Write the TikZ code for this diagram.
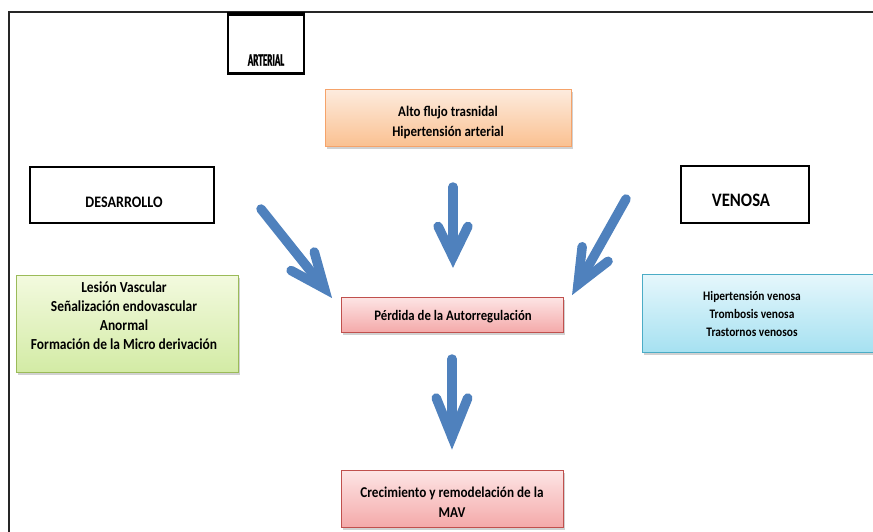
\documentclass[tikz,border=0pt]{standalone}
\usepackage{fontspec}
\setmainfont{Carlito}
\newfontfamily\lblfont[FakeStretch=0.88]{Carlito}
\newfontfamily\narrowfont[FakeStretch=0.52,FakeBold=1.2]{Carlito}
\usetikzlibrary{shadows,calc}
\definecolor{orgline}{HTML}{F5A36A}
\definecolor{orgtop}{HTML}{FDEBDD}
\definecolor{orgbot}{HTML}{FAC090}
\definecolor{grnline}{HTML}{9BBB59}
\definecolor{grntop}{HTML}{F3FADF}
\definecolor{grnbot}{HTML}{D3EBA5}
\definecolor{blueline}{HTML}{4BACC6}
\definecolor{bluetop}{HTML}{E6F7FC}
\definecolor{bluebot}{HTML}{A6E1F1}
\definecolor{redline}{HTML}{C0504D}
\definecolor{redtop}{HTML}{FDE5E5}
\definecolor{redbot}{HTML}{F4AAAA}
\definecolor{arrowblue}{HTML}{4F81BD}
\begin{document}
\begin{tikzpicture}[x=1pt,y=-1pt,
  fillbox/.style={rectangle, draw, line width=1pt, inner sep=0pt,
    drop shadow={shadow xshift=1.5pt, shadow yshift=-2.5pt, opacity=0.3, fill=black!60}},
  orangebox/.style={fillbox, draw=orgline, top color=orgtop, bottom color=orgbot},
  greenbox/.style={fillbox, draw=grnline, top color=grntop, bottom color=grnbot},
  bluebox/.style={fillbox, draw=blueline, top color=bluetop, bottom color=bluebot},
  redbox/.style={fillbox, draw=redline, top color=redtop, bottom color=redbot},
  lblbox/.style={rectangle, draw=black, line width=1.8pt, inner sep=0pt, fill=white},
  txt/.style args={#1/#2}{font=\lblfont\bfseries\fontsize{#1}{#2}\selectfont, align=center, inner sep=0pt, text=black},
  bigarrow/.style={draw=arrowblue, line width=9.5pt, line cap=round},
  armline/.style={draw=arrowblue, line width=9.5pt, line cap=round, line join=miter}
]
\useasboundingbox (0,0) rectangle (873,532);
% frame
\draw[line width=2.2pt, black!85] (9,532) -- (9,12) -- (873,12);

% label boxes
\node[lblbox, minimum width=76pt, minimum height=58pt] (arterialbox) at (266,44) {};
\draw[line width=3.2pt] (arterialbox.north west) -- (arterialbox.north east);
\draw[line width=3.2pt] (arterialbox.south west) -- (arterialbox.south east);
\node[inner sep=0pt, font=\narrowfont\bfseries\fontsize{17.5}{19}\selectfont] (arterialtxt) at (266,60) {ARTERIAL};

\node[lblbox, minimum width=184pt, minimum height=56pt] (desbox) at (122,195) {};
\node[txt=16/18] (destxt) at (124,202) {DESARROLLO};

\node[lblbox, minimum width=128pt, minimum height=57pt] (venbox) at (745,194.5) {};
\node[txt=19/20] (ventxt) at (741,200) {VENOSA};

% coloured boxes
\node[orangebox, minimum width=246pt, minimum height=57pt] (orange) at (448,118.5) {};
\node[txt=14.7/20] (orangetxt) at (448,122) {Alto flujo trasnidal\\Hipertensión arterial};

\node[greenbox, minimum width=222pt, minimum height=97pt] (green) at (127,323.5) {};
\node[txt=15.3/19] (greentxt) at (124,316) {Lesión Vascular\\Señalización endovascular\\Anormal\\Formación de la Micro derivación};

\node[bluebox, minimum width=231pt, minimum height=78pt] (blue) at (757.5,313) {};
\node[txt=13/18.3] (bluetxt) at (752,314) {Hipertensión venosa\\Trombosis venosa\\Trastornos venosos};

\node[redbox, minimum width=222pt, minimum height=35pt] (perdida) at (452,314.5) {};
\node[txt=14.5/18] (perdidatxt) at (453,317) {Pérdida de la Autorregulación};

\node[redbox, minimum width=222pt, minimum height=57pt] (crec) at (452,498.5) {};
\node[txt=15/20] (crectxt) at (452,502) {Crecimiento y remodelación de la\\MAV};

% arrows: tail, miter vertex, arm length, half angle
\coordinate (ctail) at (453,187);
\coordinate (cvert) at (453,257);
\coordinate (btail) at (452,359);
\coordinate (bvert) at (452,437);
\coordinate (ltail) at (261,209);
\coordinate (lvert) at (324.5,288.6);
\coordinate (rtail) at (626,199);
\coordinate (rvert) at (578,284.5);

\foreach \t/\v/\l/\a in {ctail/cvert/34/26, btail/bvert/42/22, ltail/lvert/38/23, rtail/rvert/38/23}{
  \draw[bigarrow] (\t) -- (\v);
  \draw[armline] ($(\v)!\l pt!\a:(\t)$) -- (\v) -- ($(\v)!\l pt!-\a:(\t)$);
}
\end{tikzpicture}
\end{document}
